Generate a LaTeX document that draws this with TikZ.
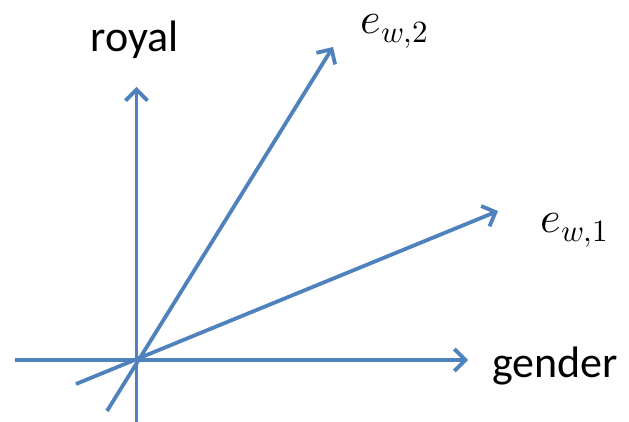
\documentclass[tikz,border=0pt]{standalone}
\usepackage{fontspec}
\usepackage{unicode-math}
\setmainfont{Carlito}
\setmathfont{Latin Modern Math}
\usetikzlibrary{arrows.meta}
\definecolor{axisblue}{HTML}{4F81BD}
\newcommand{\vecsub}[2]{$e$\kern1pt\raisebox{-9pt}{\fontsize{31}{34}\selectfont$#1{,}#2$}}
\tikzset{
  vec/.style={draw=axisblue, line width=3.8pt, -{Straight Barb[length=11pt,width=22pt,line width=3.8pt]}},
  lbl/.style={inner sep=0pt, font=\fontsize{44}{50}\selectfont}
}
\begin{document}
\begin{tikzpicture}[x=1pt,y=-1pt]
\useasboundingbox (0,0) rectangle (629,422);
\coordinate (hstart) at (15,360);
\coordinate (hend) at (468,360);
\coordinate (vstart) at (136.5,422);
\coordinate (vend) at (136.5,87);
\coordinate (astart) at (76,384);
\coordinate (aend) at (498,211);
\coordinate (bstart) at (107,411);
\coordinate (bend) at (333,47);
\draw[vec] (hstart) -- (hend);
\draw[vec] (vstart) -- (vend);
\draw[vec] (astart) -- (aend);
\draw[vec] (bstart) -- (bend);
\node[lbl, anchor=base] (royal) at (135,52) {royal};
\node[lbl, anchor=base west] (gender) at (492,377) {gender};
\node[lbl, anchor=base west] (e2) at (360,34) {\vecsub{w}{2}};
\node[lbl, anchor=base west] (e1) at (540,233) {\vecsub{w}{1}};
\end{tikzpicture}
\end{document}
